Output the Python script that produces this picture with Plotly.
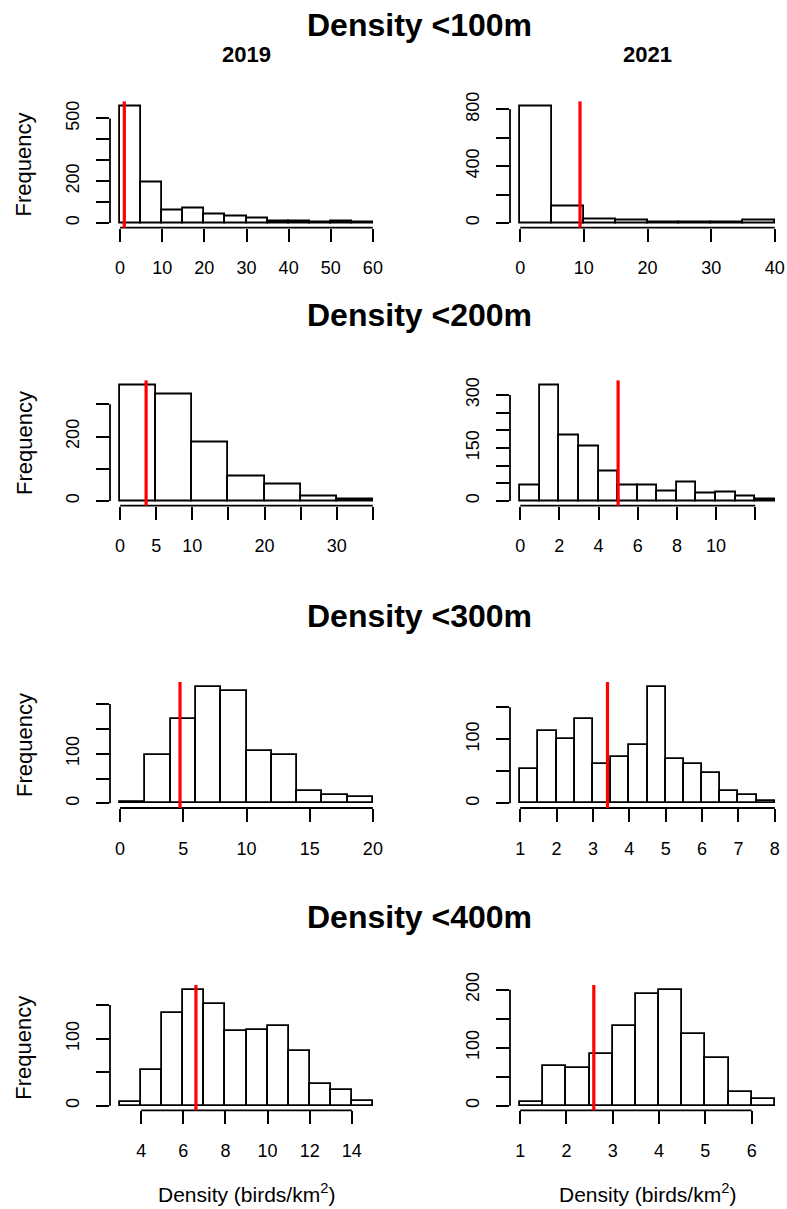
import plotly.graph_objects as go

W, H = 787, 1209

# ---------------- data ----------------
row_titles = ["Density <100m", "Density <200m", "Density <300m", "Density <400m"]
col_titles = ["2019", "2021"]
x_title = "Density (birds/km<sup>2</sup>)"
y_title = "Frequency"

# histogram bins (first break, bin width) and counts, panel order: row by row, 2019 then 2021
bin_start = [0, 0, 0, 0, 0, 1, 3, 1]
bin_width = [5, 5, 5, 1, 2, 0.5, 1, 0.5]

counts_100_2019 = [559, 194, 59, 71, 41, 32, 24, 9, 8, 2, 8, 1]
counts_100_2021 = [823, 114, 28, 15, 3, 2, 2, 15]
counts_200_2019 = [360, 331, 181, 75, 50, 13, 6]
counts_200_2021 = [45, 328, 186, 153, 84, 45, 45, 28, 52, 22, 23, 12, 5]
counts_300_2019 = [3, 97, 170, 235, 226, 106, 97, 25, 17, 13]
counts_300_2021 = [54, 113, 100, 132, 62, 72, 91, 182, 69, 62, 47, 19, 13, 3]
counts_400_2019 = [6, 54, 138, 173, 152, 111, 113, 119, 81, 33, 24, 7]
counts_400_2021 = [7, 69, 65, 90, 138, 193, 200, 124, 83, 24, 11]

counts = [counts_100_2019, counts_100_2021, counts_200_2019, counts_200_2021,
          counts_300_2019, counts_300_2021, counts_400_2019, counts_400_2021]

red_lines = [1.0, 9.4, 3.6, 5.0, 4.74, 3.4, 6.6, 2.59]

# all tick positions, and the subset that carries a label
x_ticks = [
    [0, 10, 20, 30, 40, 50, 60],
    [0, 10, 20, 30, 40],
    [0, 5, 10, 15, 20, 25, 30, 35],
    [0, 2, 4, 6, 8, 10, 12],
    [0, 5, 10, 15, 20],
    [1, 2, 3, 4, 5, 6, 7, 8],
    [4, 6, 8, 10, 12, 14],
    [1, 2, 3, 4, 5, 6],
]
x_tick_labels = [
    [0, 10, 20, 30, 40, 50, 60],
    [0, 10, 20, 30, 40],
    [0, 5, 10, 20, 30],
    [0, 2, 4, 6, 8, 10],
    [0, 5, 10, 15, 20],
    [1, 2, 3, 4, 5, 6, 7, 8],
    [4, 6, 8, 10, 12, 14],
    [1, 2, 3, 4, 5, 6],
]
y_ticks = [
    [0, 100, 200, 300, 400, 500],
    [0, 200, 400, 600, 800],
    [0, 100, 200, 300],
    [0, 50, 100, 150, 200, 250, 300],
    [0, 50, 100, 150, 200],
    [0, 50, 100, 150],
    [0, 50, 100, 150],
    [0, 50, 100, 150, 200],
]
y_tick_labels = [
    [0, 200, 500],
    [0, 400, 800],
    [0, 200],
    [0, 150, 300],
    [0, 100],
    [0, 100],
    [0, 100],
    [0, 100, 200],
]

# ---------------- layout geometry (pixels) ----------------
col_left = [110, 510]
col_right = [383, 785]
row_top = [101.4, 380.4, 682, 985]
row_bottom = [227.7, 505.6, 808, 1110.4]


def px(x):
    return x / W


def py(y):
    return 1 - y / H


FONT = "Liberation Sans, Arial, sans-serif"
LW = 1.8
TICKLEN = 13
TICKFONT = dict(size=18, family=FONT, color="black")

fig = go.Figure()
layout = dict(
    width=W, height=H,
    margin=dict(l=0, r=0, t=0, b=0, autoexpand=False),
    paper_bgcolor="white", plot_bgcolor="white",
    showlegend=False,
    font=dict(family=FONT, color="black"),
)
shapes = []
annotations = []

for i in range(8):
    r, c = divmod(i, 2)
    n = "" if i == 0 else str(i + 1)
    cnt = counts[i]
    b0, bw = bin_start[i], bin_width[i]
    edges = [b0 + k * bw for k in range(len(cnt) + 1)]
    centers = [(edges[k] + edges[k + 1]) / 2 for k in range(len(cnt))]
    fig.add_trace(go.Bar(
        x=centers, y=cnt, width=[bw] * len(cnt),
        marker=dict(color="white", line=dict(color="black", width=LW)),
        xaxis="x" + n, yaxis="y" + n, hoverinfo="x+y",
    ))
    span = edges[-1] - edges[0]
    ymax = max(cnt)
    x_minor = [v for v in x_ticks[i] if v not in x_tick_labels[i]]
    y_minor = [v for v in y_ticks[i] if v not in y_tick_labels[i]]
    layout["xaxis" + n] = dict(
        domain=[px(col_left[c]), px(col_right[c])],
        range=[edges[0] - 0.04 * span, edges[-1] + 0.04 * span],
        anchor="y" + n, showgrid=False, zeroline=False, showline=False,
        ticks="outside", ticklen=TICKLEN, tickwidth=LW, tickcolor="black",
        tickvals=x_tick_labels[i], ticktext=[str(v) for v in x_tick_labels[i]],
        tickfont=TICKFONT, ticklabelstandoff=11,
        minor=dict(tickmode="array", tickvals=x_minor, ticks="outside",
                   ticklen=TICKLEN, tickwidth=LW, tickcolor="black",
                   showgrid=False),
    )
    layout["yaxis" + n] = dict(
        domain=[py(row_bottom[r]), py(row_top[r])],
        range=[-0.04 * ymax, 1.04 * ymax],
        anchor="x" + n, showgrid=False, zeroline=False, showline=False,
        ticks="outside", ticklen=TICKLEN, tickwidth=LW, tickcolor="black",
        tickvals=y_tick_labels[i], ticktext=[str(v) for v in y_tick_labels[i]],
        tickangle=-90, tickfont=TICKFONT, ticklabelstandoff=10,
        minor=dict(tickmode="array", tickvals=y_minor, ticks="outside",
                   ticklen=TICKLEN, tickwidth=LW, tickcolor="black",
                   showgrid=False),
    )
    # R-style axis lines spanning first to last tick
    shapes.append(dict(type="line", xref="x" + n, yref="y" + n + " domain",
                       x0=x_ticks[i][0], x1=x_ticks[i][-1], y0=0, y1=0,
                       line=dict(color="black", width=LW)))
    shapes.append(dict(type="line", xref="x" + n + " domain", yref="y" + n,
                       x0=0, x1=0, y0=y_ticks[i][0], y1=y_ticks[i][-1],
                       line=dict(color="black", width=LW)))
    # red reference line
    shapes.append(dict(type="line", xref="x" + n, yref="y" + n + " domain",
                       x0=red_lines[i], x1=red_lines[i], y0=0, y1=1,
                       line=dict(color="#ff0000", width=3.2)))

    if c == 0:
        annotations.append(dict(
            text=y_title, textangle=-90, xref="paper", yref="paper",
            x=px(24), y=py((row_top[r] + row_bottom[r]) / 2),
            xanchor="center", yanchor="middle", showarrow=False,
            font=dict(size=22, family=FONT, color="black")))

title_y = [25, 315, 616, 917]
for r in range(4):
    annotations.append(dict(
        text="<b>%s</b>" % row_titles[r], xref="paper", yref="paper",
        x=px(419), y=py(title_y[r]), xanchor="center", yanchor="middle",
        showarrow=False, font=dict(size=32, family=FONT, color="black")))

for c in range(2):
    annotations.append(dict(
        text="<b>%s</b>" % col_titles[c], xref="paper", yref="paper",
        x=px((col_left[c] + col_right[c]) / 2), y=py(55),
        xanchor="center", yanchor="middle", showarrow=False,
        font=dict(size=22, family=FONT, color="black")))
    annotations.append(dict(
        text=x_title, xref="paper", yref="paper",
        x=px((col_left[c] + col_right[c]) / 2), y=py(1193),
        xanchor="center", yanchor="middle", showarrow=False,
        font=dict(size=21, family=FONT, color="black")))

layout["shapes"] = shapes
layout["annotations"] = annotations
layout["bargap"] = 0
fig.update_layout(**layout)
# remove the browser's default page margin so the figure fills the window exactly
fig.write_html("out.html", config={"displayModeBar": False},
               post_script="document.body.style.margin='0';")
